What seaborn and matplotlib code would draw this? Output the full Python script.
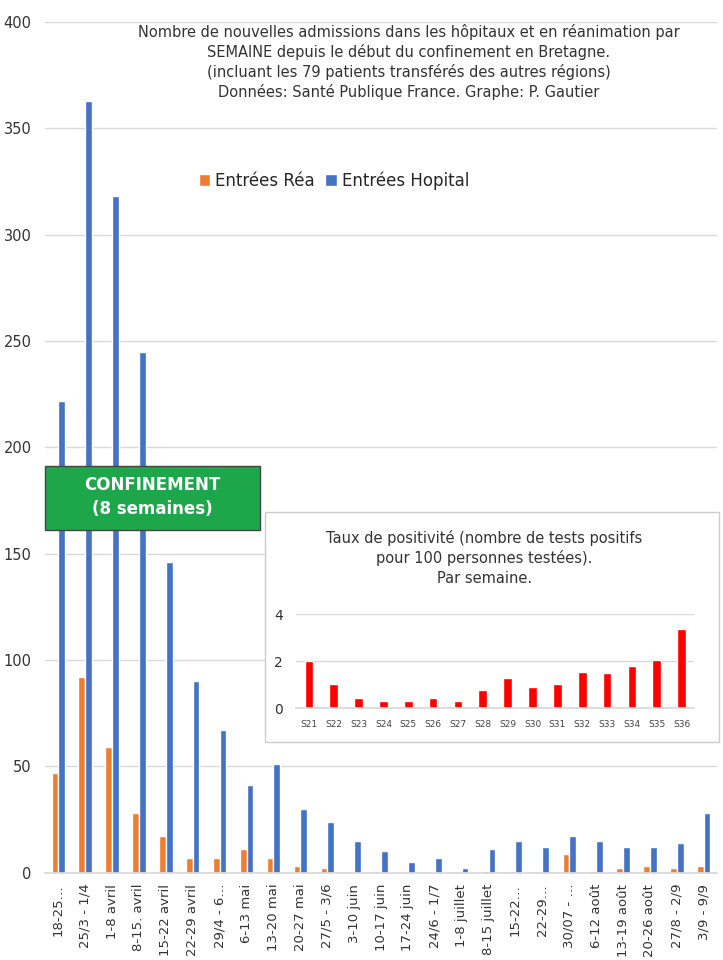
import matplotlib.pyplot as plt
import seaborn as sns
import pandas as pd
from matplotlib.patches import Rectangle

semaines = ['18-25…', '25/3 - 1/4', '1-8 avril', '8-15. avril', '15-22 avril', '22-29 avril',
            '29/4 - 6…', '6-13 mai', '13-20 mai', '20-27 mai', '27/5 - 3/6', '3-10 juin',
            '10-17 juin', '17-24 juin', '24/6 - 1/7', '1-8 juillet', '8-15 juillet', '15-22…',
            '22-29…', '30/07 - …', '6-12 août', '13-19 août', '20-26 août', '27/8 - 2/9', '3/9 - 9/9']
entrees_rea = [47, 92, 59, 28, 17, 7, 7, 11, 7, 3, 2, 0, 1, 0, 0, 0, 1, 1, 0, 9, 1, 2, 3, 2, 3]
entrees_hopital = [222, 363, 318, 245, 146, 90, 67, 41, 51, 30, 24, 15, 10, 5, 7, 2, 11, 15,
                   12, 17, 15, 12, 12, 14, 28]

semaines_tests = ['S21', 'S22', 'S23', 'S24', 'S25', 'S26', 'S27', 'S28', 'S29', 'S30',
                  'S31', 'S32', 'S33', 'S34', 'S35', 'S36']
taux_positivite = [2.0, 1.05, 0.45, 0.3, 0.3, 0.45, 0.3, 0.8, 1.3, 0.9, 1.05, 1.55, 1.5,
                   1.8, 2.05, 3.4]

sns.set_theme(style='white')
plt.rcParams['font.family'] = ['DejaVu Sans']

df = pd.DataFrame({
    'semaine': semaines * 2,
    'valeur': entrees_rea + entrees_hopital,
    'serie': ['Entrées Réa'] * len(semaines) + ['Entrées Hopital'] * len(semaines),
})

fig = plt.figure(figsize=(7.23, 9.6), dpi=100)
ax = fig.add_axes([0.062, 0.091, 0.93, 0.886])
sns.barplot(data=df, x='semaine', y='valeur', hue='serie', ax=ax,
            palette=['#ED7D31', '#4472C4'], width=0.5, saturation=1)
ax.set_ylim(0, 400)
ax.set_yticks(range(0, 401, 50))
ax.yaxis.grid(True, color='#d9d9d9', lw=1)
ax.set_axisbelow(True)
ax.set_xlabel('')
ax.set_ylabel('')
ax.tick_params(axis='x', rotation=90, labelsize=9.5, colors='#333333', pad=2)
ax.tick_params(axis='y', labelsize=10.5, colors='#333333')
for s in ['top', 'right', 'left']:
    ax.spines[s].set_visible(False)
ax.spines['bottom'].set_color('#d9d9d9')
ax.legend(loc='center', bbox_to_anchor=(0.43, 0.814), ncol=2, frameon=False,
          fontsize=12, handlelength=0.7, handleheight=0.7, columnspacing=0.6,
          handletextpad=0.3)

fig.text(0.565, 0.975, "Nombre de nouvelles admissions dans les hôpitaux et en réanimation par\n"
         "SEMAINE depuis le début du confinement en Bretagne.\n"
         "(incluant les 79 patients transférés des autres régions)\n"
         "Données: Santé Publique France. Graphe: P. Gautier",
         ha='center', va='top', fontsize=10.5, color='#333333', linespacing=1.3)

# encadré confinement
fig.patches.append(Rectangle((0.062, 0.448), 0.298, 0.067, transform=fig.transFigure,
                             facecolor='#1EA64A', edgecolor='#444444', lw=1))
fig.text(0.211, 0.482, "CONFINEMENT\n(8 semaines)", ha='center', va='center',
         color='white', fontsize=12, fontweight='bold', linespacing=1.4)

# encart taux de positivité
fig.patches.append(Rectangle((0.367, 0.227), 0.627, 0.24, transform=fig.transFigure,
                             facecolor='white', edgecolor='#cccccc', lw=1, zorder=3))
ins = fig.add_axes([0.41, 0.262, 0.55, 0.098], zorder=4)
ins.patch.set_alpha(0)
sns.barplot(x=semaines_tests, y=taux_positivite, ax=ins, color='#FF0000',
            width=0.35, saturation=1)
ins.set_ylim(0, 4)
ins.set_yticks([0, 2, 4])
ins.yaxis.grid(True, color='#d9d9d9', lw=1)
ins.set_axisbelow(True)
ins.tick_params(axis='x', labelsize=6.5, colors='#444444', pad=2)
ins.tick_params(axis='y', labelsize=10, colors='#333333')
for s in ['top', 'right', 'left']:
    ins.spines[s].set_visible(False)
ins.spines['bottom'].set_color('#d9d9d9')
fig.text(0.67, 0.448, "Taux de positivité (nombre de tests positifs\npour 100 personnes testées).\nPar semaine.",
         ha='center', va='top', fontsize=10.5, color='#333333', linespacing=1.35, zorder=5)

fig.savefig('out.png', dpi=100)
